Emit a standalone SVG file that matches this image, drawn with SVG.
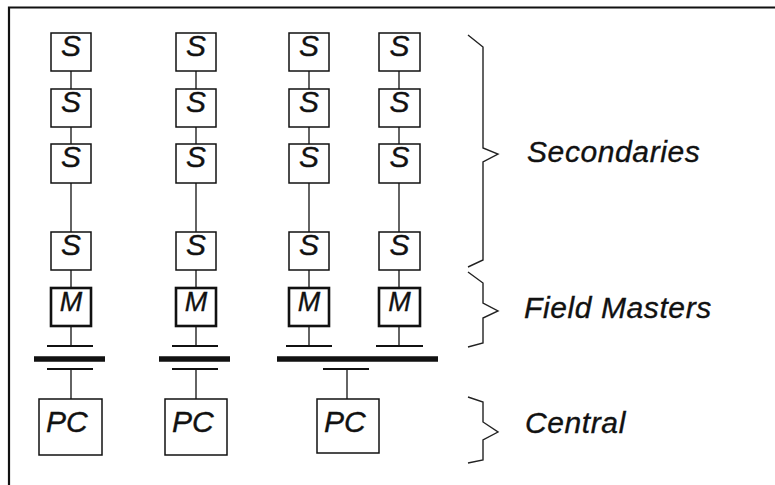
<svg xmlns="http://www.w3.org/2000/svg" width="775" height="485" viewBox="0 0 775 485">
  <style>
    .box { fill: #fff; stroke: #111; stroke-width: 1.5; }
    .mbox { fill: #fff; stroke: #111; stroke-width: 2.6; }
    .lbl { font-family: "Liberation Sans", Arial, sans-serif; font-style: italic; fill: #111; stroke: #111; stroke-width: 0.35; }
    .s { font-size: 30px; text-anchor: middle; }
    .m { font-size: 27px; text-anchor: middle; }
    .pc { font-size: 30px; }
    .cap { font-size: 30px; letter-spacing: 0.6px; }
    .wire { stroke: #111; stroke-width: 1.3; fill: none; }
    .tap { stroke: #111; stroke-width: 2; fill: none; }
    .bus { stroke: #111; stroke-width: 5.5; fill: none; }
    .brace { stroke: #222; stroke-width: 1.4; fill: none; }
  </style>

  <rect width="775" height="485" fill="#fff"/>

  <!-- frame: top and left edges -->
  <path d="M9 485 V7.5 H775" fill="none" stroke="#111" stroke-width="2.2"/>

  <!-- connectors -->
  <g id="connectors">
    <!-- column 1 -->
    <path class="wire" d="M71 71 V89 M71 127 V144 M71 183 V232 M71 270 V288 M71 326 V346 M71 369 V399"/>
    <!-- column 2 -->
    <path class="wire" d="M196 71 V89 M196 127 V144 M196 183 V232 M196 270 V288 M196 326 V346 M196 369 V399"/>
    <!-- column 3 -->
    <path class="wire" d="M309 71 V89 M309 127 V144 M309 183 V232 M309 270 V288 M309 326 V346"/>
    <!-- column 4 -->
    <path class="wire" d="M399 71 V89 M399 127 V144 M399 183 V232 M399 270 V288 M399 326 V346"/>
    <!-- shared PC drop -->
    <path class="wire" d="M347 369 V399"/>
    <!-- bus taps -->
    <path class="tap" d="M47 346 H93 M47 369 H93 M172 346 H218 M172 369 H218 M286 346 H332 M376 346 H423 M323 369 H369"/>
    <!-- buses -->
    <path class="bus" d="M34 359 H105 M159 359 H230 M277 359 H438"/>
  </g>

  <!-- column 1 -->
  <g id="s1a"><rect class="box" x="51" y="33" width="40" height="38"/><text class="lbl s" x="71" y="56">S</text></g>
  <g id="s1b"><rect class="box" x="51" y="89" width="40" height="38"/><text class="lbl s" x="71" y="112">S</text></g>
  <g id="s1c"><rect class="box" x="51" y="144" width="40" height="39"/><text class="lbl s" x="71" y="167">S</text></g>
  <g id="s1d"><rect class="box" x="51" y="232" width="40" height="38"/><text class="lbl s" x="71" y="255">S</text></g>
  <g id="m1"><rect class="mbox" x="51" y="288" width="40" height="38"/><text class="lbl m" x="71" y="311">M</text></g>
  <g id="pc1"><rect class="box" x="39" y="399" width="63" height="56"/><text class="lbl pc" x="46" y="432">PC</text></g>

  <!-- column 2 -->
  <g id="s2a"><rect class="box" x="176" y="33" width="40" height="38"/><text class="lbl s" x="196" y="56">S</text></g>
  <g id="s2b"><rect class="box" x="176" y="89" width="40" height="38"/><text class="lbl s" x="196" y="112">S</text></g>
  <g id="s2c"><rect class="box" x="176" y="144" width="40" height="39"/><text class="lbl s" x="196" y="167">S</text></g>
  <g id="s2d"><rect class="box" x="176" y="232" width="40" height="38"/><text class="lbl s" x="196" y="255">S</text></g>
  <g id="m2"><rect class="mbox" x="176" y="288" width="40" height="38"/><text class="lbl m" x="196" y="311">M</text></g>
  <g id="pc2"><rect class="box" x="165" y="399" width="62" height="56"/><text class="lbl pc" x="172" y="432">PC</text></g>

  <!-- column 3 -->
  <g id="s3a"><rect class="box" x="289" y="33" width="40" height="38"/><text class="lbl s" x="309" y="56">S</text></g>
  <g id="s3b"><rect class="box" x="289" y="89" width="40" height="38"/><text class="lbl s" x="309" y="112">S</text></g>
  <g id="s3c"><rect class="box" x="289" y="144" width="40" height="39"/><text class="lbl s" x="309" y="167">S</text></g>
  <g id="s3d"><rect class="box" x="289" y="232" width="40" height="38"/><text class="lbl s" x="309" y="255">S</text></g>
  <g id="m3"><rect class="mbox" x="289" y="288" width="40" height="38"/><text class="lbl m" x="309" y="311">M</text></g>

  <!-- column 4 -->
  <g id="s4a"><rect class="box" x="379" y="33" width="41" height="38"/><text class="lbl s" x="399.5" y="56">S</text></g>
  <g id="s4b"><rect class="box" x="379" y="89" width="41" height="38"/><text class="lbl s" x="399.5" y="112">S</text></g>
  <g id="s4c"><rect class="box" x="379" y="144" width="41" height="39"/><text class="lbl s" x="399.5" y="167">S</text></g>
  <g id="s4d"><rect class="box" x="379" y="232" width="41" height="38"/><text class="lbl s" x="399.5" y="255">S</text></g>
  <g id="m4"><rect class="mbox" x="379" y="288" width="41" height="38"/><text class="lbl m" x="399.5" y="311">M</text></g>

  <!-- shared PC -->
  <g id="pc3"><rect class="box" x="317" y="399" width="62" height="54"/><text class="lbl pc" x="324" y="432">PC</text></g>

  <!-- tier braces and captions -->
  <g id="secondaries">
    <path class="brace" d="M468 35 L483 47 V148 L498 154 L483 162 V260 L468 267"/>
    <text class="lbl cap" x="527" y="162">Secondaries</text>
  </g>
  <g id="field-masters">
    <path class="brace" d="M468 272 L483 283 V303 L498 311 L483 318 V343 L468 347"/>
    <text class="lbl cap" x="524" y="318">Field Masters</text>
  </g>
  <g id="central">
    <path class="brace" d="M468 397 L483 402 V422 L498 432 L483 440 V460 L468 463"/>
    <text class="lbl cap" x="525" y="433">Central</text>
  </g>
</svg>
